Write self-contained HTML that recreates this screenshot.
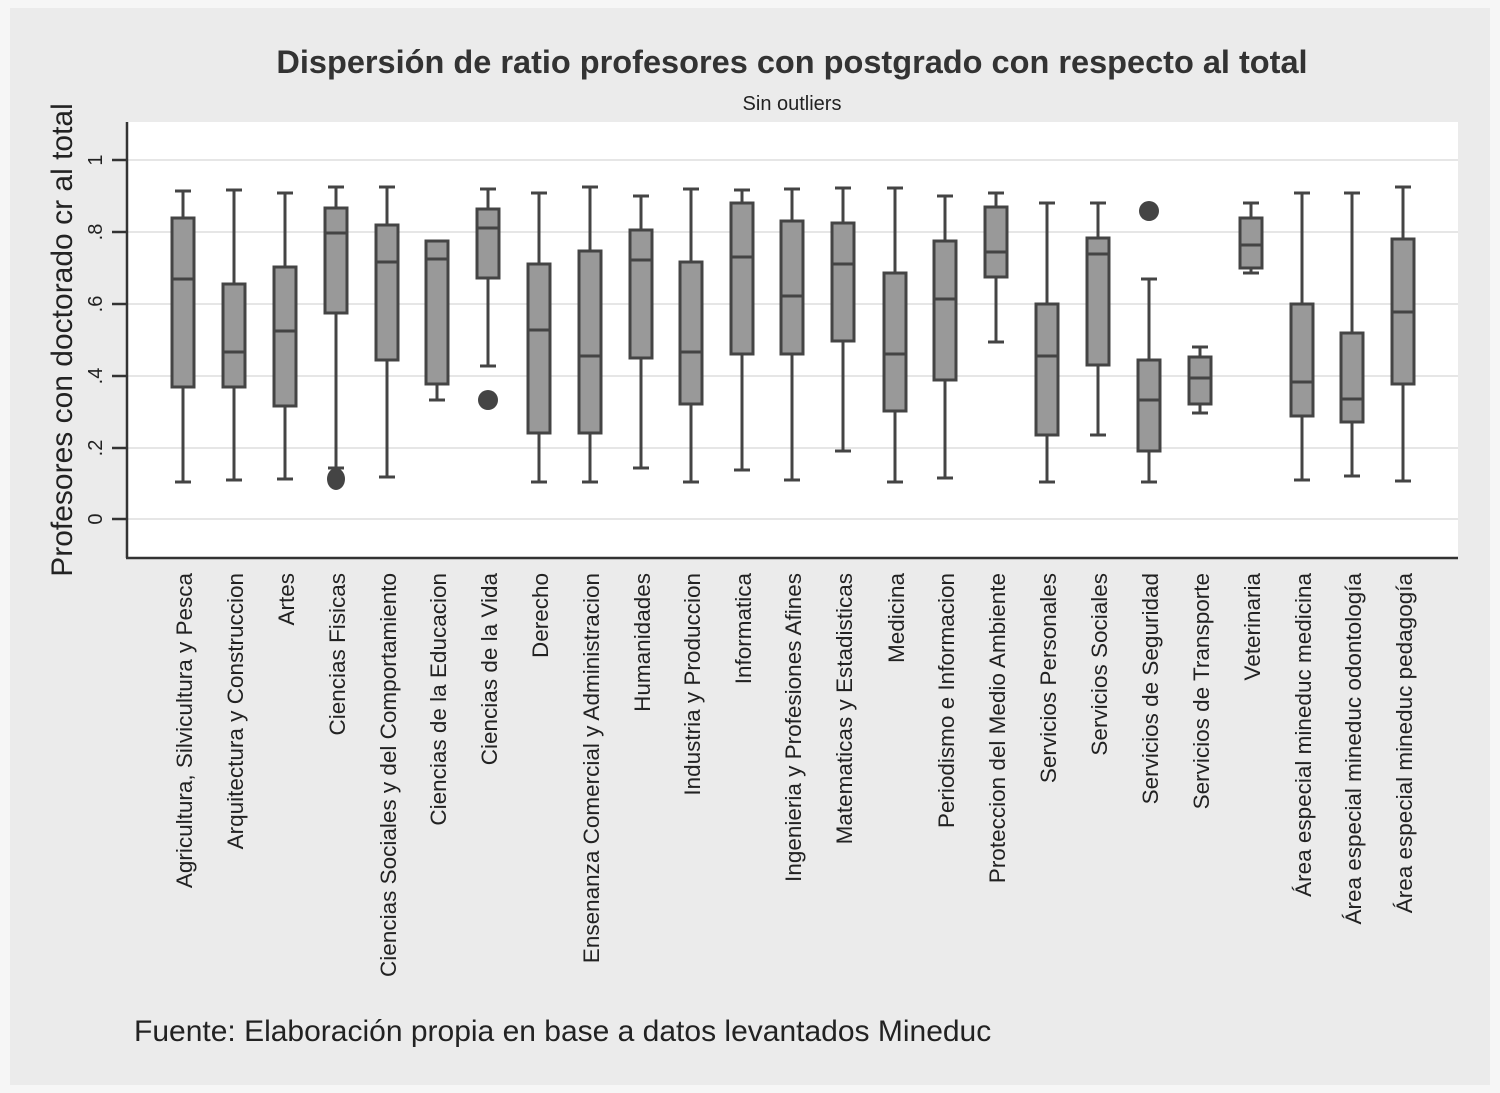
<!DOCTYPE html>
<html><head><meta charset="utf-8"><style>
html,body{margin:0;padding:0;background:#f6f6f6;}
svg{display:block;font-family:"Liberation Sans",sans-serif;}
</style></head><body>
<svg width="1500" height="1093" viewBox="0 0 1500 1093" xmlns="http://www.w3.org/2000/svg">
<rect x="0" y="0" width="1500" height="1093" fill="#f6f6f6"/>
<rect x="10" y="8" width="1480" height="1077" fill="#ebebeb"/>
<rect x="128" y="122" width="1330" height="435" fill="#ffffff"/>
<g stroke="#e6e6e6" stroke-width="2">
<line x1="128" y1="160" x2="1458" y2="160"/>
<line x1="128" y1="232" x2="1458" y2="232"/>
<line x1="128" y1="304" x2="1458" y2="304"/>
<line x1="128" y1="376" x2="1458" y2="376"/>
<line x1="128" y1="448" x2="1458" y2="448"/>
<line x1="128" y1="519" x2="1458" y2="519"/>
</g>
<g stroke="#333" stroke-width="2.5">
<line x1="127" y1="122" x2="127" y2="558"/>
<line x1="126" y1="558" x2="1458" y2="558"/>
<line x1="112" y1="160" x2="127" y2="160"/>
<line x1="112" y1="232" x2="127" y2="232"/>
<line x1="112" y1="304" x2="127" y2="304"/>
<line x1="112" y1="376" x2="127" y2="376"/>
<line x1="112" y1="448" x2="127" y2="448"/>
<line x1="112" y1="519" x2="127" y2="519"/>
</g>
<g font-size="20" fill="#222" text-anchor="middle">
<text transform="translate(102,160) rotate(-90)">1</text>
<text transform="translate(102,232) rotate(-90)">.8</text>
<text transform="translate(102,304) rotate(-90)">.6</text>
<text transform="translate(102,376) rotate(-90)">.4</text>
<text transform="translate(102,448) rotate(-90)">.2</text>
<text transform="translate(102,519) rotate(-90)">0</text>
</g>
<text transform="translate(72,340) rotate(-90)" font-size="30" fill="#222" text-anchor="middle">Profesores con doctorado cr al total</text>
<text x="792" y="73" font-size="32.5" font-weight="bold" fill="#333" text-anchor="middle">Dispersión de ratio profesores con postgrado con respecto al total</text>
<text x="792" y="110" font-size="20" fill="#222" text-anchor="middle">Sin outliers</text>
<text x="134" y="1041" font-size="30" fill="#222">Fuente: Elaboración propia en base a datos levantados Mineduc</text>

<g stroke="#444" stroke-width="3" fill="#999">
<line x1="183" y1="191" x2="183" y2="218"/><line x1="175" y1="191" x2="191" y2="191"/><line x1="183" y1="387" x2="183" y2="482"/><line x1="175" y1="482" x2="191" y2="482"/><rect x="172" y="218" width="22" height="169"/><line x1="172" y1="279" x2="194" y2="279"/>
<line x1="234" y1="190" x2="234" y2="284"/><line x1="226" y1="190" x2="242" y2="190"/><line x1="234" y1="387" x2="234" y2="480"/><line x1="226" y1="480" x2="242" y2="480"/><rect x="223" y="284" width="22" height="103"/><line x1="223" y1="352" x2="245" y2="352"/>
<line x1="285" y1="193" x2="285" y2="267"/><line x1="277" y1="193" x2="293" y2="193"/><line x1="285" y1="406" x2="285" y2="479"/><line x1="277" y1="479" x2="293" y2="479"/><rect x="274" y="267" width="22" height="139"/><line x1="274" y1="331" x2="296" y2="331"/>
<line x1="336" y1="187" x2="336" y2="208"/><line x1="328" y1="187" x2="344" y2="187"/><line x1="336" y1="313" x2="336" y2="468"/><line x1="328" y1="468" x2="344" y2="468"/><rect x="325" y="208" width="22" height="105"/><line x1="325" y1="233" x2="347" y2="233"/>
<ellipse cx="336" cy="479" rx="9" ry="11" fill="#444" stroke="none"/>
<line x1="387" y1="187" x2="387" y2="225"/><line x1="379" y1="187" x2="395" y2="187"/><line x1="387" y1="360" x2="387" y2="477"/><line x1="379" y1="477" x2="395" y2="477"/><rect x="376" y="225" width="22" height="135"/><line x1="376" y1="262" x2="398" y2="262"/>
<line x1="437" y1="384" x2="437" y2="400"/><line x1="429" y1="400" x2="445" y2="400"/><rect x="426" y="241" width="22" height="143"/><line x1="426" y1="259" x2="448" y2="259"/>
<line x1="488" y1="189" x2="488" y2="209"/><line x1="480" y1="189" x2="496" y2="189"/><line x1="488" y1="278" x2="488" y2="366"/><line x1="480" y1="366" x2="496" y2="366"/><rect x="477" y="209" width="22" height="69"/><line x1="477" y1="228" x2="499" y2="228"/>
<circle cx="488" cy="400" r="10" fill="#444" stroke="none"/>
<line x1="539" y1="193" x2="539" y2="264"/><line x1="531" y1="193" x2="547" y2="193"/><line x1="539" y1="433" x2="539" y2="482"/><line x1="531" y1="482" x2="547" y2="482"/><rect x="528" y="264" width="22" height="169"/><line x1="528" y1="330" x2="550" y2="330"/>
<line x1="590" y1="187" x2="590" y2="251"/><line x1="582" y1="187" x2="598" y2="187"/><line x1="590" y1="433" x2="590" y2="482"/><line x1="582" y1="482" x2="598" y2="482"/><rect x="579" y="251" width="22" height="182"/><line x1="579" y1="356" x2="601" y2="356"/>
<line x1="641" y1="196" x2="641" y2="230"/><line x1="633" y1="196" x2="649" y2="196"/><line x1="641" y1="358" x2="641" y2="468"/><line x1="633" y1="468" x2="649" y2="468"/><rect x="630" y="230" width="22" height="128"/><line x1="630" y1="260" x2="652" y2="260"/>
<line x1="691" y1="189" x2="691" y2="262"/><line x1="683" y1="189" x2="699" y2="189"/><line x1="691" y1="404" x2="691" y2="482"/><line x1="683" y1="482" x2="699" y2="482"/><rect x="680" y="262" width="22" height="142"/><line x1="680" y1="352" x2="702" y2="352"/>
<line x1="742" y1="190" x2="742" y2="203"/><line x1="734" y1="190" x2="750" y2="190"/><line x1="742" y1="354" x2="742" y2="470"/><line x1="734" y1="470" x2="750" y2="470"/><rect x="731" y="203" width="22" height="151"/><line x1="731" y1="257" x2="753" y2="257"/>
<line x1="792" y1="189" x2="792" y2="221"/><line x1="784" y1="189" x2="800" y2="189"/><line x1="792" y1="354" x2="792" y2="480"/><line x1="784" y1="480" x2="800" y2="480"/><rect x="781" y="221" width="22" height="133"/><line x1="781" y1="296" x2="803" y2="296"/>
<line x1="843" y1="188" x2="843" y2="223"/><line x1="835" y1="188" x2="851" y2="188"/><line x1="843" y1="341" x2="843" y2="451"/><line x1="835" y1="451" x2="851" y2="451"/><rect x="832" y="223" width="22" height="118"/><line x1="832" y1="264" x2="854" y2="264"/>
<line x1="895" y1="188" x2="895" y2="273"/><line x1="887" y1="188" x2="903" y2="188"/><line x1="895" y1="411" x2="895" y2="482"/><line x1="887" y1="482" x2="903" y2="482"/><rect x="884" y="273" width="22" height="138"/><line x1="884" y1="354" x2="906" y2="354"/>
<line x1="945" y1="196" x2="945" y2="241"/><line x1="937" y1="196" x2="953" y2="196"/><line x1="945" y1="380" x2="945" y2="478"/><line x1="937" y1="478" x2="953" y2="478"/><rect x="934" y="241" width="22" height="139"/><line x1="934" y1="299" x2="956" y2="299"/>
<line x1="996" y1="193" x2="996" y2="207"/><line x1="988" y1="193" x2="1004" y2="193"/><line x1="996" y1="277" x2="996" y2="342"/><line x1="988" y1="342" x2="1004" y2="342"/><rect x="985" y="207" width="22" height="70"/><line x1="985" y1="252" x2="1007" y2="252"/>
<line x1="1047" y1="203" x2="1047" y2="304"/><line x1="1039" y1="203" x2="1055" y2="203"/><line x1="1047" y1="435" x2="1047" y2="482"/><line x1="1039" y1="482" x2="1055" y2="482"/><rect x="1036" y="304" width="22" height="131"/><line x1="1036" y1="356" x2="1058" y2="356"/>
<line x1="1098" y1="203" x2="1098" y2="238"/><line x1="1090" y1="203" x2="1106" y2="203"/><line x1="1098" y1="365" x2="1098" y2="435"/><line x1="1090" y1="435" x2="1106" y2="435"/><rect x="1087" y="238" width="22" height="127"/><line x1="1087" y1="254" x2="1109" y2="254"/>
<line x1="1149" y1="279" x2="1149" y2="360"/><line x1="1141" y1="279" x2="1157" y2="279"/><line x1="1149" y1="451" x2="1149" y2="482"/><line x1="1141" y1="482" x2="1157" y2="482"/><rect x="1138" y="360" width="22" height="91"/><line x1="1138" y1="400" x2="1160" y2="400"/>
<circle cx="1149" cy="211" r="10" fill="#444" stroke="none"/>
<line x1="1200" y1="347" x2="1200" y2="357"/><line x1="1192" y1="347" x2="1208" y2="347"/><line x1="1200" y1="404" x2="1200" y2="413"/><line x1="1192" y1="413" x2="1208" y2="413"/><rect x="1189" y="357" width="22" height="47"/><line x1="1189" y1="378" x2="1211" y2="378"/>
<line x1="1251" y1="203" x2="1251" y2="218"/><line x1="1243" y1="203" x2="1259" y2="203"/><line x1="1251" y1="268" x2="1251" y2="273"/><line x1="1243" y1="273" x2="1259" y2="273"/><rect x="1240" y="218" width="22" height="50"/><line x1="1240" y1="245" x2="1262" y2="245"/>
<line x1="1302" y1="193" x2="1302" y2="304"/><line x1="1294" y1="193" x2="1310" y2="193"/><line x1="1302" y1="416" x2="1302" y2="480"/><line x1="1294" y1="480" x2="1310" y2="480"/><rect x="1291" y="304" width="22" height="112"/><line x1="1291" y1="382" x2="1313" y2="382"/>
<line x1="1352" y1="193" x2="1352" y2="333"/><line x1="1344" y1="193" x2="1360" y2="193"/><line x1="1352" y1="422" x2="1352" y2="476"/><line x1="1344" y1="476" x2="1360" y2="476"/><rect x="1341" y="333" width="22" height="89"/><line x1="1341" y1="399" x2="1363" y2="399"/>
<line x1="1403" y1="187" x2="1403" y2="239"/><line x1="1395" y1="187" x2="1411" y2="187"/><line x1="1403" y1="384" x2="1403" y2="481"/><line x1="1395" y1="481" x2="1411" y2="481"/><rect x="1392" y="239" width="22" height="145"/><line x1="1392" y1="312" x2="1414" y2="312"/>
</g>

<g font-size="22.5" fill="#222" text-anchor="end">
<text transform="translate(192,573) rotate(-90)">Agricultura, Silvicultura y Pesca</text>
<text transform="translate(243,573) rotate(-90)">Arquitectura y Construccion</text>
<text transform="translate(294,573) rotate(-90)">Artes</text>
<text transform="translate(345,573) rotate(-90)">Ciencias Fisicas</text>
<text transform="translate(396,573) rotate(-90)">Ciencias Sociales y del Comportamiento</text>
<text transform="translate(446,573) rotate(-90)">Ciencias de la Educacion</text>
<text transform="translate(497,573) rotate(-90)">Ciencias de la Vida</text>
<text transform="translate(548,573) rotate(-90)">Derecho</text>
<text transform="translate(599,573) rotate(-90)">Ensenanza Comercial y Administracion</text>
<text transform="translate(650,573) rotate(-90)">Humanidades</text>
<text transform="translate(700,573) rotate(-90)">Industria y Produccion</text>
<text transform="translate(751,573) rotate(-90)">Informatica</text>
<text transform="translate(801,573) rotate(-90)">Ingenieria y Profesiones Afines</text>
<text transform="translate(852,573) rotate(-90)">Matematicas y Estadisticas</text>
<text transform="translate(904,573) rotate(-90)">Medicina</text>
<text transform="translate(954,573) rotate(-90)">Periodismo e Informacion</text>
<text transform="translate(1005,573) rotate(-90)">Proteccion del Medio Ambiente</text>
<text transform="translate(1056,573) rotate(-90)">Servicios Personales</text>
<text transform="translate(1107,573) rotate(-90)">Servicios Sociales</text>
<text transform="translate(1158,573) rotate(-90)">Servicios de Seguridad</text>
<text transform="translate(1209,573) rotate(-90)">Servicios de Transporte</text>
<text transform="translate(1260,573) rotate(-90)">Veterinaria</text>
<text transform="translate(1311,573) rotate(-90)">Área especial mineduc medicina</text>
<text transform="translate(1361,573) rotate(-90)">Área especial mineduc odontología</text>
<text transform="translate(1412,573) rotate(-90)">Área especial mineduc pedagogía</text>
</g>
</svg>
</body></html>
